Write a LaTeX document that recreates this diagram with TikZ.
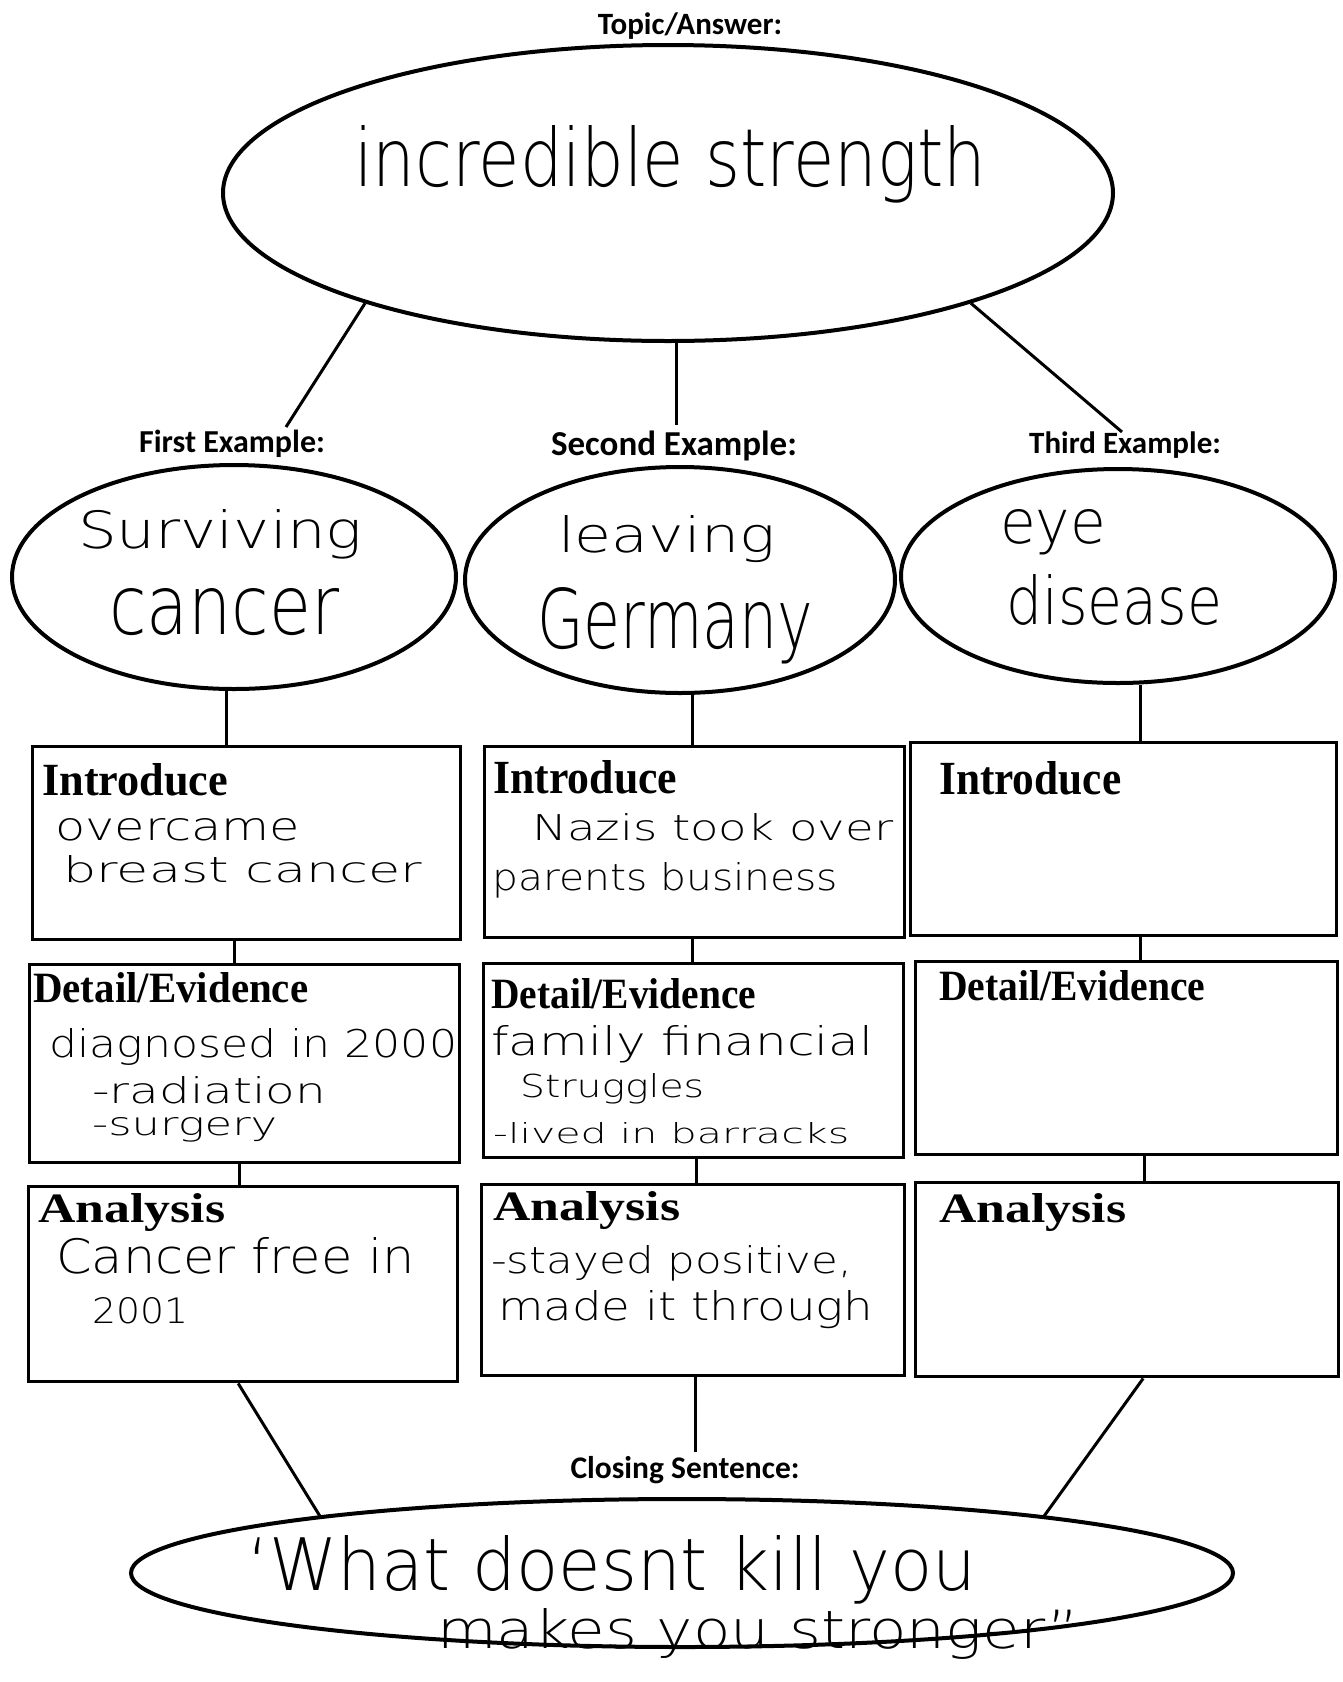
\documentclass[tikz,border=0pt]{standalone}
\usepackage{graphicx}
\usepackage{fontspec}
\newfontfamily\labfont{Carlito}
\newfontfamily\headfont{Liberation Serif}
\newfontfamily\hand{DejaVu Sans ExtraLight}
\usetikzlibrary{shapes.geometric}
\newcommand\hwt[3]{\resizebox{#1pt}{#2pt}{\hand #3}}
\newcommand\hdt[3]{\resizebox{#1pt}{#2pt}{\headfont\bfseries #3}}
\newcommand\lsz[1]{\labfont\bfseries\fontsize{#1}{#1}\selectfont}
\begin{document}
\begin{tikzpicture}[x=1pt,y=-1pt,
  oval/.style={ellipse, draw, line width=4pt, inner sep=0pt},
  box/.style={draw, line width=3.4pt, inner sep=0pt, anchor=north west},
  link/.style={line width=3pt},
  lab/.style={anchor=base, inner sep=0pt},
  head/.style={anchor=base west, inner sep=0pt},
  hw/.style={anchor=base west, inner sep=0pt}]
\useasboundingbox[fill=white] (0,0) rectangle (1343,1682);

% ---- ellipses
\node[oval, minimum width=890pt, minimum height=296pt] (top) at (668,193) {};
\node[oval, minimum width=444pt, minimum height=224pt] (e1) at (234,577) {};
\node[oval, minimum width=430pt, minimum height=226pt] (e2) at (680,580) {};
\node[oval, minimum width=434pt, minimum height=214pt] (e3) at (1118,576) {};
\node[oval, minimum width=1102pt, minimum height=148pt] (bot) at (682,1573) {};

% ---- boxes
\node[box, minimum width=428pt, minimum height=193pt] (intro1) at (31,745) {};
\node[box, minimum width=420pt, minimum height=191pt] (intro2) at (483,745) {};
\node[box, minimum width=426pt, minimum height=193pt] (intro3) at (909,741) {};
\node[box, minimum width=430pt, minimum height=198pt] (det1) at (28,963) {};
\node[box, minimum width=420pt, minimum height=194pt] (det2) at (482,962) {};
\node[box, minimum width=422pt, minimum height=193pt] (det3) at (914,960) {};
\node[box, minimum width=429pt, minimum height=195pt] (ana1) at (27,1185) {};
\node[box, minimum width=423pt, minimum height=191pt] (ana2) at (480,1183) {};
\node[box, minimum width=423pt, minimum height=194pt] (ana3) at (914,1181) {};

% ---- printed labels
\node[lab, font=\lsz{31}] (ltop) at (690,34) {Topic/Answer:};
\node[lab, font=\lsz{32}] (lfirst) at (232,452) {First Example:};
\node[lab, font=\lsz{35}] (lsecond) at (674,455) {Second Example:};
\node[lab, font=\lsz{31}] (lthird) at (1125,453) {Third Example:};
\node[lab, font=\lsz{31.5}] (lclose) at (685,1478) {Closing Sentence:};

% ---- headings
\node[head] (h1a) at (42,795) {\hdt{186}{32}{Introduce}};
\node[head] (h2a) at (493,793) {\hdt{184}{33}{Introduce}};
\node[head] (h3a) at (939,794) {\hdt{182}{33}{Introduce}};
\node[head] (h1b) at (33,1002) {\hdt{275}{30}{Detail/Evidence}};
\node[head] (h2b) at (491,1008) {\hdt{265}{30}{Detail/Evidence}};
\node[head] (h3b) at (939,1000) {\hdt{266}{30}{Detail/Evidence}};
\node[head] (h1c) at (38,1222) {\hdt{187}{29}{Analysis}};
\node[head] (h2c) at (493,1220) {\hdt{187}{29}{Analysis}};
\node[head] (h3c) at (939,1222) {\hdt{187}{29}{Analysis}};

% ---- handwriting
\node[hw] (w0) at (354,186) {\hwt{632}{61}{incredible strength}};
\node[hw] (w1a) at (78,548) {\hwt{284}{39}{Surviving}};
\node[hw] (w1b) at (109,634) {\hwt{230}{46}{cancer}};
\node[hw] (w2a) at (558,552) {\hwt{217}{37}{leaving}};
\node[hw] (w2b) at (537,648) {\hwt{276}{61}{Germany}};
\node[hw] (w3a) at (1000,543) {\hwt{106}{34}{eye}};
\node[hw] (w3b) at (1006,624) {\hwt{216}{50}{disease}};
\node[hw] (i1a) at (55,840) {\hwt{245}{22}{overcame}};
\node[hw] (i1b) at (63,882) {\hwt{359}{27}{breast cancer}};
\node[hw] (i2a) at (532,840) {\hwt{361}{27}{Nazis took over}};
\node[hw] (i2b) at (492,890) {\hwt{346}{28}{parents business}};
\node[hw] (d1a) at (49,1057) {\hwt{408}{29}{diagnosed in 2000}};
\node[hw] (d1b) at (92,1103) {\hwt{234}{27}{-radiation}};
\node[hw] (d1c) at (92,1135) {\hwt{185}{18}{-surgery}};
\node[hw] (d2a) at (491,1055) {\hwt{382}{30}{family financial}};
\node[hw] (d2b) at (520,1097) {\hwt{184}{24}{Struggles}};
\node[hw] (d2c) at (493,1143) {\hwt{356}{21}{-lived in barracks}};
\node[hw] (a1a) at (56,1273) {\hwt{359}{36}{Cancer free in}};
\node[hw] (a1b) at (92,1323) {\hwt{96}{26}{2001}};
\node[hw] (a2a) at (491,1273) {\hwt{361}{28}{-stayed positive,}};
\node[hw] (a2b) at (498,1320) {\hwt{375}{30}{made it through}};
\node[hw] (b1) at (247,1590) {\hwt{729}{55}{‘What doesnt kill you}};
\node[hw] (b2) at (437,1648) {\hwt{642}{40}{makes you stronger”}};

% ---- connectors from the topic
\coordinate (c1) at (286,427);
\coordinate (c2) at (676,425);
\coordinate (c3) at (1122,432);
\coordinate (c4) at (695,1452);
\draw[link] (top.200.6) -- (c1);
\draw[link] (c2 |- top.south) -- (c2);
\draw[link] (top.340.9) -- (c3);

% ---- column connectors
\draw[link] ([xshift=-8pt]e1.south) -- ([xshift=-8pt]e1.south |- intro1.north);
\draw[link] ([xshift=-12pt]intro1.south) -- ([xshift=-12pt]intro1.south |- det1.north);
\draw[link] ([xshift=-5pt]det1.south) -- ([xshift=-5pt]det1.south |- ana1.north);
\draw[link] ([xshift=12pt]e2.south) -- ([xshift=12pt]e2.south |- intro2.north);
\draw[link] ([xshift=-2pt]intro2.south) -- ([xshift=-2pt]intro2.south |- det2.north);
\draw[link] ([xshift=3pt]det2.south) -- ([xshift=3pt]det2.south |- ana2.north);
\draw[link] ([xshift=22pt]e3.south) -- ([xshift=22pt]e3.south |- intro3.north);
\draw[link] ([xshift=17pt]intro3.south) -- ([xshift=17pt]intro3.south |- det3.north);
\draw[link] ([xshift=18pt]det3.south) -- ([xshift=18pt]det3.south |- ana3.north);

% ---- connectors to the closing sentence
\draw[link] ([xshift=-5pt]ana1.south) -- (bot.171.9);
\draw[link] (ana2.south -| c4) -- (c4);
\draw[link] ([xshift=16pt]ana3.south) -- (bot.9.7);
\end{tikzpicture}
\end{document}
